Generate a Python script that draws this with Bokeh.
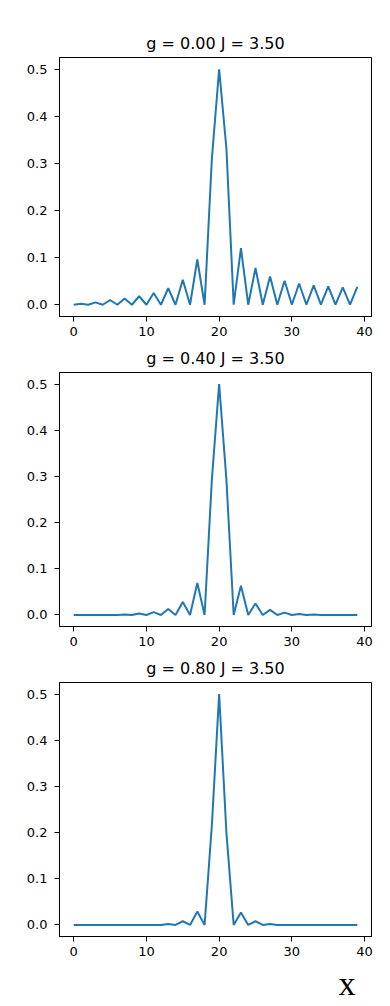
from bokeh.plotting import figure
from bokeh.layouts import column
from bokeh.models import FixedTicker, PrintfTickFormatter, Range1d, Title
from bokeh.embed import file_html
from bokeh.resources import INLINE

xs = list(range(40))
titles = ["g = 0.00 J = 3.50", "g = 0.40 J = 3.50", "g = 0.80 J = 3.50"]
y_g000 = [0, 0.002, 0, 0.005, 0, 0.010, 0, 0.013, 0, 0.018,
          0, 0.025, 0, 0.035, 0, 0.053, 0, 0.096, 0, 0.310,
          0.500, 0.332, 0, 0.120, 0, 0.078, 0, 0.060, 0, 0.051,
          0, 0.045, 0, 0.041, 0, 0.039, 0, 0.037, 0, 0.038]
y_g040 = [0, 0, 0, 0, 0, 0, 0, 0.001, 0, 0.003,
          0, 0.006, 0, 0.013, 0, 0.028, 0, 0.069, 0, 0.293,
          0.500, 0.293, 0, 0.063, 0, 0.025, 0, 0.011, 0, 0.005,
          0, 0.002, 0, 0.001, 0, 0, 0, 0, 0, 0]
y_g080 = [0, 0, 0, 0, 0, 0, 0, 0, 0, 0,
          0, 0, 0, 0.002, 0, 0.008, 0, 0.029, 0, 0.216,
          0.500, 0.200, 0, 0.027, 0, 0.008, 0, 0.002, 0, 0,
          0, 0, 0, 0, 0, 0, 0, 0, 0, 0]
series = [y_g000, y_g040, y_g080]
x_ticks = [0, 10, 20, 30, 40]
y_ticks = [0.0, 0.1, 0.2, 0.3, 0.4, 0.5]
x_label = "x"

FONT = "DejaVu Sans"
heights = [341, 310, 354]
tops = [57, 26, 27]
bottoms = [25, 25, 69]

figs = []
for i in range(3):
    p = figure(width=382, height=heights[i], output_backend="svg", toolbar_location=None,
               x_range=Range1d(-1.95, 40.95), y_range=Range1d(-0.025, 0.525),
               min_border_left=59, min_border_right=11,
               min_border_top=tops[i], min_border_bottom=bottoms[i])
    p.title = Title(text=titles[i], align="center", text_font=FONT,
                    text_font_size="16px", text_font_style="normal", text_color="black")
    p.line(xs, series[i], line_color="#1f77b4", line_width=2)
    p.xgrid.visible = False
    p.ygrid.visible = False
    p.outline_line_color = "black"
    p.outline_line_alpha = 1
    p.outline_line_width = 1
    p.xaxis.ticker = FixedTicker(ticks=x_ticks)
    p.yaxis.ticker = FixedTicker(ticks=y_ticks)
    p.yaxis.formatter = PrintfTickFormatter(format="%.1f")
    for ax in (p.xaxis, p.yaxis):
        ax.major_label_text_font = FONT
        ax.major_label_text_font_size = "13px"
        ax.major_label_text_color = "black"
        ax.axis_line_color = "black"
        ax.major_tick_line_color = "black"
        ax.major_tick_in = 0
        ax.major_tick_out = 5
        ax.minor_tick_line_color = None
    p.xaxis.major_label_standoff = 5
    p.yaxis.major_label_standoff = 7
    p.background_fill_color = "white"
    p.border_fill_color = "white"
    figs.append(p)

xt = Title(text=x_label, align="right", offset=16, standoff=8,
           text_font="Liberation Serif", text_font_size="34px",
           text_font_style="normal", text_color="black")
figs[2].add_layout(xt, "below")

layout = column(*figs, spacing=0)
open("out.html", "w").write(file_html(layout, INLINE))
